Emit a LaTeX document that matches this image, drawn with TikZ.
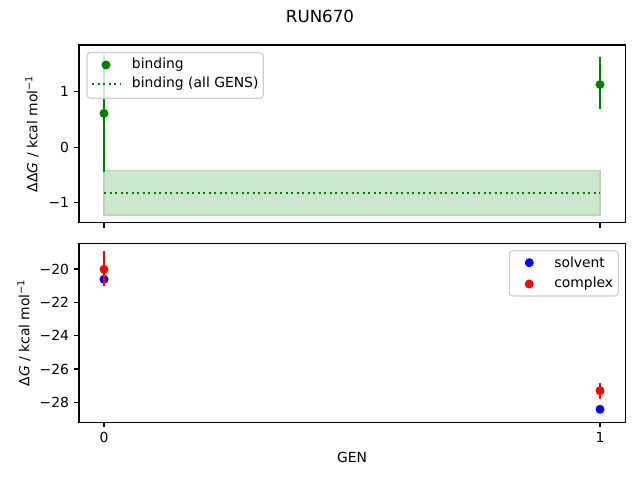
\documentclass[tikz,border=0pt]{standalone}
\usepackage{fontspec}
\setmainfont{DejaVu Sans}
\definecolor{mgreen}{HTML}{008000}
\definecolor{mband}{HTML}{CCE6CC}
\definecolor{mbandedge}{HTML}{B3D9B3}
\definecolor{mblue}{HTML}{0000FF}
\definecolor{mred}{HTML}{FF0000}
\definecolor{legedge}{HTML}{CCCCCC}
\tikzset{
  spine/.style={draw=black,line width=0.8pt},
  tickmark/.style={draw=black,line width=0.8pt},
  ticklab/.style={font=\fontsize{10bp}{12bp}\selectfont,inner sep=0pt},
  axlab/.style={font=\fontsize{10bp}{12bp}\selectfont,inner sep=0pt},
  errbar/.style={line width=1.5pt},
  dotline/.style={line width=1.5pt,dash pattern=on 1.5pt off 2.475pt},
  legbox/.style={draw=legedge,line width=0.8pt,fill=white,fill opacity=0.8,rounded corners=2.5pt},
}
\newcommand{\mdot}[3]{\fill[#1] (#2,#3) circle (3.25pt);}
\begin{document}
\begin{tikzpicture}[x=0.01in,y=-0.01in]
\useasboundingbox (0,0) rectangle (640,480);
% title
\node[font=\fontsize{12bp}{14bp}\selectfont,inner sep=0pt] (title) at (320,16) {RUN670};

% ===== top axes =====
\fill[mband] (104,170.3) rectangle (600,215);
\draw[mbandedge,line width=0.8pt] (104,170.3) rectangle (600,215);
\draw[mgreen,dotline] (104,192.7) -- (600,192.7);
\draw[mgreen,errbar] (104,171.7) -- (104,55.2);
\mdot{mgreen}{104}{113.4}
\draw[mgreen,errbar] (600,57.3) -- (600,109.3);
\mdot{mgreen}{600}{84.6}
% legend top
\draw[legbox] (87,52.7) rectangle (263.3,98.3);
\mdot{mgreen}{106}{65}
\draw[mgreen,dotline] (92,84) -- (120,84);
\node[axlab,anchor=west] (lb1) at (131.7,65) {binding};
\node[axlab,anchor=west] (lb2) at (131.7,84) {binding (all GENS)};
% spines
\draw[spine] (79,45) rectangle (625.7,222.7);
% ticks
\foreach \yy/\lab in {91.8/1,147.3/0,202.8/−1}{
  \draw[tickmark] (79,\yy) -- (74.1,\yy);
  \node[ticklab,anchor=east] at (69.3,\yy) {\lab};
}
\foreach \xx in {104,600}{
  \draw[tickmark] (\xx,222.7) -- (\xx,227.6);
}
\node[axlab,rotate=90] (yl1) at (32,133.8) {ΔΔ\textit{G} / kcal mol\textsuperscript{−1}};

% ===== bottom axes =====
\mdot{mblue}{104}{279.3}
\mdot{mblue}{600}{409.3}
\draw[mred,errbar] (104,250.7) -- (104,285.7);
\mdot{mred}{104}{269.3}
\draw[mred,errbar] (600,382.7) -- (600,398.7);
\mdot{mred}{600}{390.7}
% legend bottom
\draw[legbox] (509.3,250.7) rectangle (618.3,296);
\mdot{mblue}{529.3}{262.7}
\mdot{mred}{529.3}{284}
\node[axlab,anchor=west] (ls) at (554,262.7) {solvent};
\node[axlab,anchor=west] (lc) at (554,284) {complex};
% spines
\draw[spine] (79,243.3) rectangle (625.7,422.3);
\foreach \yy/\lab in {269/−20,302.3/−22,335.7/−24,369/−26,402.3/−28}{
  \draw[tickmark] (79,\yy) -- (74.1,\yy);
  \node[ticklab,anchor=east] at (69.3,\yy) {\lab};
}
\foreach \xx/\lab in {104/0,600/1}{
  \draw[tickmark] (\xx,422.3) -- (\xx,427.2);
  \node[ticklab,anchor=north] at (\xx,432) {\lab};
}
\node[axlab,rotate=90] (yl2) at (24,332.8) {Δ\textit{G} / kcal mol\textsuperscript{−1}};
\node[axlab] (xl) at (352,457) {GEN};
\end{tikzpicture}
\end{document}
